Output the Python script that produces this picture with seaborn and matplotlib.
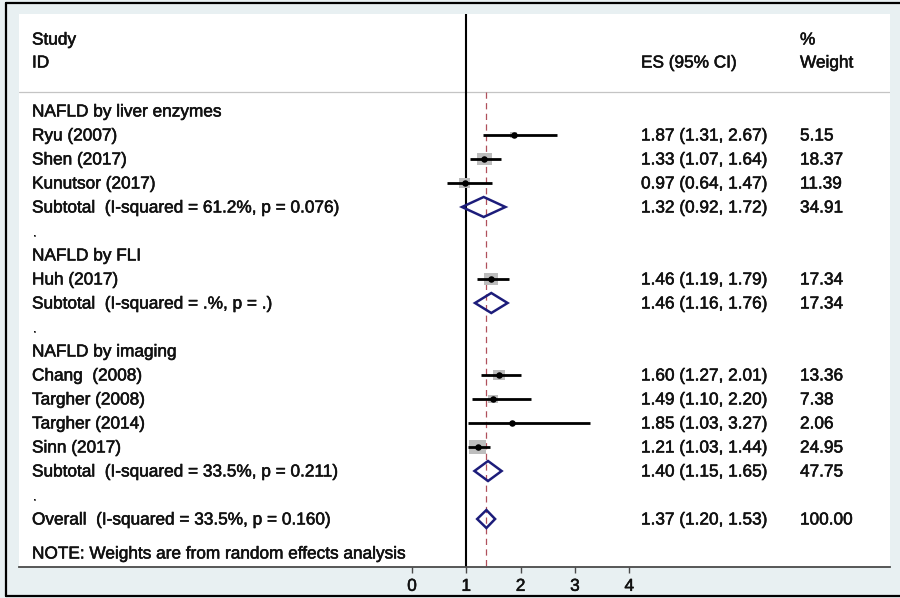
import numpy as np
import pandas as pd
import matplotlib
matplotlib.use("Agg")
import matplotlib.pyplot as plt
import matplotlib.patheffects as pe
from matplotlib.patches import Rectangle, Polygon
from matplotlib.lines import Line2D
import seaborn as sns

# ---- data -------------------------------------------------------------
groups = ["NAFLD by liver enzymes", "NAFLD by FLI", "NAFLD by imaging"]
group_sizes = [3, 1, 4]

studies = ["Ryu (2007)", "Shen (2017)", "Kunutsor (2017)", "Huh (2017)",
           "Chang  (2008)", "Targher (2008)", "Targher (2014)", "Sinn (2017)"]
es = [1.87, 1.33, 0.97, 1.46, 1.60, 1.49, 1.85, 1.21]
ci_lo = [1.31, 1.07, 0.64, 1.19, 1.27, 1.10, 1.03, 1.03]
ci_hi = [2.67, 1.64, 1.47, 1.79, 2.01, 2.20, 3.27, 1.44]
weights = [5.15, 18.37, 11.39, 17.34, 13.36, 7.38, 2.06, 24.95]

sub_het = ["I-squared = 61.2%, p = 0.076", "I-squared = .%, p = .",
           "I-squared = 33.5%, p = 0.211"]
sub_es = [1.32, 1.46, 1.40]
sub_lo = [0.92, 1.16, 1.15]
sub_hi = [1.72, 1.76, 1.65]
sub_w = [34.91, 17.34, 47.75]

overall_het = "I-squared = 33.5%, p = 0.160"
overall_es, overall_lo, overall_hi, overall_w = 1.37, 1.20, 1.53, 100.00

x_ticks = [0, 1, 2, 3, 4]

# ---- styling ----------------------------------------------------------
sns.set_style("white")
plt.rcParams["font.family"] = ["Liberation Sans", "DejaVu Sans"]
FS = 12.4
TXT = "#111111"
NAVY = "#1c1c7a"
BG = "#e8f0f2"
HEAVY = [pe.withStroke(linewidth=0.4, foreground=TXT)]

W, H = 900, 598
fig = plt.figure(figsize=(W / 100, H / 100), dpi=100, facecolor=BG)

# plot panel (white region)
px_l, px_r, px_t, px_b = 19, 890, 14, 567
ax = fig.add_axes([px_l / W, 1 - px_b / H, (px_r - px_l) / W, (px_b - px_t) / H])
ax.set_facecolor("white")

# x scale: 1 unit = 54.33 px, x=1 at pixel 466.3
XU, X1 = 54.33, 466.3
ax.set_xlim(1 - (X1 - px_l) / XU, 1 + (px_r - X1) / XU)
# y: one row = 24 px, row 0 at pixel 111
YU, Y0 = 24.0, 111.0
ax.set_ylim((px_b - Y0) / YU, (px_t - Y0) / YU)


def px_to_x(p):
    return 1 + (p - X1) / XU


def py_to_row(p):
    return (p - Y0) / YU


def put(x, y, s):
    ax.text(x, y, s, ha="left", va="center", fontsize=FS, color=TXT,
            path_effects=HEAVY)


x_lab = px_to_x(32)
x_es = px_to_x(641)
x_wt = px_to_x(800)

# ---- build table rows -------------------------------------------------
rows = []
r = 0
k = 0
for g, n in enumerate(group_sizes):
    rows.append(dict(row=r, kind="head", label=groups[g]))
    r += 1
    for _ in range(n):
        rows.append(dict(row=r, kind="study", label=studies[k], es=es[k],
                         lo=ci_lo[k], hi=ci_hi[k], w=weights[k]))
        r += 1
        k += 1
    rows.append(dict(row=r, kind="sub", label=f"Subtotal  ({sub_het[g]})",
                     es=sub_es[g], lo=sub_lo[g], hi=sub_hi[g], w=sub_w[g]))
    r += 1
    rows.append(dict(row=r, kind="gap", label="."))
    r += 1
rows.append(dict(row=r, kind="overall", label=f"Overall  ({overall_het})",
                 es=overall_es, lo=overall_lo, hi=overall_hi, w=overall_w))
df = pd.DataFrame(rows)
st = df[df.kind == "study"]

# reference lines
ax.axvline(1, color="black", lw=1.5, zorder=1)
ax.plot([overall_es, overall_es], [py_to_row(92), py_to_row(px_b)],
        color="#b0505c", lw=0.9, ls=(0, (5, 3.5)), zorder=1)

# header separator
ax.axhline(py_to_row(92), color="#c4c4c4", lw=0.9, zorder=0)

# weight boxes
wmax = max(weights)
for _, s in st.iterrows():
    f = np.sqrt(s.w / wmax)
    bw, bh = 17 * f / XU, 14.5 * f / YU
    ax.add_patch(Rectangle((s.es - bw / 2, s.row - bh / 2), bw, bh,
                           facecolor="#bdbdbd", edgecolor="none", zorder=2))

# confidence intervals
ax.hlines(st.row, st.lo, st.hi, color="black", lw=2.0, zorder=3)

# point estimates
sns.scatterplot(data=st, x="es", y="row", ax=ax, color="black", s=22,
                marker="o", edgecolor="black", linewidth=0, zorder=4,
                legend=False)

# pooled diamonds
for _, s in df[df.kind.isin(["sub", "overall"])].iterrows():
    h = (10 if s.kind == "sub" else 9) / YU
    ax.add_patch(Polygon([(s.lo, s.row), (s.es, s.row - h), (s.hi, s.row),
                          (s.es, s.row + h)], closed=True, facecolor="none",
                         edgecolor=NAVY, lw=1.8, zorder=4))

# text columns
for _, s in df.iterrows():
    put(x_lab, s.row + 0.04, s.label)
    if s.kind in ("study", "sub", "overall"):
        put(x_es, s.row + 0.04, f"{s.es:.2f} ({s.lo:.2f}, {s.hi:.2f})")
        put(x_wt, s.row + 0.04, f"{s.w:.2f}")

put(x_lab, py_to_row(40), "Study")
put(x_lab, py_to_row(63), "ID")
put(x_es, py_to_row(63), "ES (95% CI)")
put(x_wt, py_to_row(40), "%")
put(x_wt, py_to_row(63), "Weight")
put(x_lab, py_to_row(554), "NOTE: Weights are from random effects analysis")

# axes
for side in ("top", "left", "right"):
    ax.spines[side].set_visible(False)
ax.spines["bottom"].set_color("#4a4a4a")
ax.spines["bottom"].set_linewidth(1.3)
ax.set_xticks(x_ticks)
ax.set_xticklabels([str(t) for t in x_ticks])
ax.tick_params(axis="x", direction="out", length=4.5, width=1.0,
               color="#4a4a4a", labelsize=FS, labelcolor=TXT, pad=4,
               bottom=True)
for lab in ax.get_xticklabels():
    lab.set_path_effects(HEAVY)
ax.set_yticks([])
ax.set_xlabel("")
ax.set_ylabel("")

# outer frame
fx = lambda p: p / W
fy = lambda p: 1 - p / H
for xs, ys in [([6, 900], [3, 3]), ([6, 6], [3, 596]), ([6, 900], [596, 596])]:
    fig.add_artist(Line2D([fx(v) for v in xs], [fy(v) for v in ys],
                          color="black", lw=1.6, transform=fig.transFigure))

fig.savefig("out.png", dpi=100, facecolor=BG)
